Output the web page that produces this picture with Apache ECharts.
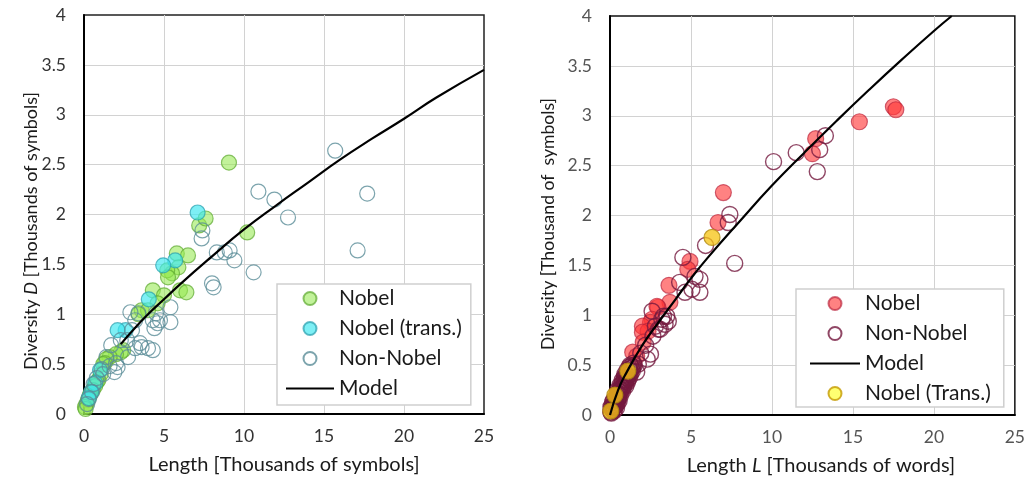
<!DOCTYPE html>
<html>
<head>
<meta charset="utf-8">
<script src="https://cdn.jsdelivr.net/npm/echarts@6/dist/echarts.min.js"></script>
<style>
  html, body { margin: 0; padding: 0; background: #fff; }
  #chart { width: 1028px; height: 481px; }
</style>
</head>
<body>
<div id="chart"></div>
<script>
// ---- Left panel: length vs diversity, thousands of symbols ----
const leftNobel = [
  [9.06, 2.52], [7.2, 1.89], [7.6, 1.96], [10.2, 1.82],
  [5.8, 1.61], [6.5, 1.59], [5.9, 1.47], [5.5, 1.41], [5.2, 1.44], [5.25, 1.37],
  [6.0, 1.24], [6.4, 1.22], [4.3, 1.24], [5.0, 1.19], [4.6, 1.11], [3.6, 1.04],
  [4.0, 1.04], [3.4, 1.0], [2.45, 0.64], [2.3, 0.62], [2.0, 0.6],
  [1.6, 0.57], [1.4, 0.55], [1.3, 0.51], [1.2, 0.5], [1.05, 0.4], [0.9, 0.34],
  [0.8, 0.32], [0.7, 0.28], [0.55, 0.24], [0.4, 0.2], [0.35, 0.18], [0.25, 0.14],
  [0.15, 0.1], [0.06, 0.07], [0.1, 0.05]
];
const leftNobelTrans = [
  [7.1, 2.02], [5.7, 1.54], [4.95, 1.49], [4.05, 1.15], [2.6, 0.84], [2.1, 0.84],
  [1.0, 0.44], [0.7, 0.31], [0.45, 0.22], [0.3, 0.16]
];
const leftNonNobel = [
  [15.7, 2.64], [10.9, 2.23], [11.9, 2.15], [17.7, 2.21], [12.75, 1.97], [17.1, 1.64],
  [10.6, 1.42], [9.4, 1.54], [9.1, 1.64], [7.35, 1.76], [7.4, 1.84], [8.3, 1.62],
  [8.8, 1.62], [8.0, 1.31], [8.1, 1.27], [5.4, 1.07], [4.75, 0.94], [5.4, 0.92],
  [4.4, 0.86], [3.4, 1.01], [3.2, 0.94], [4.3, 0.94], [2.7, 0.74], [3.6, 0.67],
  [4.3, 0.64], [4.0, 0.66], [2.9, 1.02], [3.5, 0.71], [3.2, 0.66], [2.75, 0.57],
  [2.0, 0.51], [1.9, 0.42], [4.5, 1.01], [4.6, 0.91], [2.3, 0.74], [3.0, 0.84],
  [1.4, 0.57], [1.7, 0.69], [1.1, 0.45], [0.8, 0.36], [0.6, 0.3], [0.5, 0.22],
  [0.3, 0.15], [0.2, 0.1], [1.2, 0.4], [2.1, 0.47], [1.6, 0.48]
];
const leftModelL = [2.3, 3, 4, 5, 6, 8, 10, 12, 14, 16, 18, 20, 22, 25];
const leftModelD = [0.7, 0.83, 1.0, 1.15, 1.30, 1.58, 1.85, 2.09, 2.32, 2.55, 2.76, 2.96, 3.17, 3.45];

// ---- Right panel: length in thousands of words ----
const rightNobel = [
  [17.5, 3.09], [17.65, 3.06], [15.4, 2.94], [12.7, 2.77], [12.5, 2.62],
  [7.0, 2.23], [6.67, 1.93], [4.94, 1.54], [4.8, 1.46], [3.64, 1.3], [3.7, 1.13],
  [2.96, 1.08], [2.9, 1.09], [2.6, 0.96], [2.5, 0.93], [2.0, 0.89], [2.35, 0.84],
  [2.0, 0.83], [2.05, 0.73], [1.4, 0.63], [1.65, 0.59]
];
const rightNonNobel = [
  [10.1, 2.54], [13.3, 2.8], [12.95, 2.66], [11.5, 2.63], [12.8, 2.44],
  [7.4, 2.01], [7.3, 1.93], [5.9, 1.7], [7.7, 1.52], [4.5, 1.58], [5.25, 1.39],
  [5.55, 1.36], [4.3, 1.33], [5.06, 1.26], [5.55, 1.23], [4.63, 1.23], [3.3, 0.99],
  [3.6, 0.94], [3.2, 0.96], [3.4, 0.91], [3.5, 0.99], [3.0, 0.86], [2.65, 0.79],
  [2.5, 0.61], [2.3, 0.56], [1.75, 0.51], [1.65, 0.43], [2.8, 0.89], [3.1, 0.86],
  [2.6, 1.04], [2.2, 0.7], [1.9, 0.62],
  [0.05, 0.03], [0.1, 0.06], [0.15, 0.05], [0.2, 0.1], [0.25, 0.08], [0.3, 0.14],
  [0.35, 0.12], [0.4, 0.18], [0.45, 0.15], [0.5, 0.22], [0.55, 0.2], [0.6, 0.26],
  [0.65, 0.23], [0.7, 0.3], [0.75, 0.27], [0.8, 0.33], [0.85, 0.3], [0.9, 0.36],
  [0.95, 0.34], [1.0, 0.4], [1.05, 0.37], [1.1, 0.42], [1.15, 0.4], [1.2, 0.46],
  [1.25, 0.44], [1.3, 0.49], [1.35, 0.47], [1.45, 0.52], [1.5, 0.5], [0.12, 0.09],
  [0.28, 0.11], [0.42, 0.21], [0.58, 0.24], [0.72, 0.28], [0.88, 0.38], [1.02, 0.35],
  [1.18, 0.48], [0.22, 0.15], [0.38, 0.1], [0.5, 0.16],
  [0.08, 0.02], [0.18, 0.07], [0.27, 0.05], [0.33, 0.09], [0.46, 0.12], [0.52, 0.18],
  [0.63, 0.19], [0.68, 0.25], [0.78, 0.24], [0.83, 0.28], [0.93, 0.31], [0.98, 0.29],
  [1.08, 0.33], [1.13, 0.36], [1.22, 0.38], [1.28, 0.42], [1.38, 0.44], [1.42, 0.48],
  [0.16, 0.13], [0.32, 0.17], [0.48, 0.25], [0.62, 0.3], [0.76, 0.35], [0.92, 0.41],
  [1.06, 0.45], [1.24, 0.5], [0.06, 0.08], [0.24, 0.04], [0.4, 0.07], [0.56, 0.14]
];
const rightNobelTrans = [[6.3, 1.78], [1.1, 0.44], [0.3, 0.2], [0.05, 0.04]];
const rightModelL = [0, 0.5, 1, 2, 3, 4, 5, 6, 8, 10, 12, 14, 16, 18, 20, 21.1];
const rightModelD = [0, 0.25, 0.42, 0.7, 0.93, 1.15, 1.37, 1.57, 1.94, 2.3, 2.63, 2.95, 3.26, 3.56, 3.85, 4.0];

const xTicks = { min: 0, max: 25, interval: 5 };
const yTicks = { min: 0, max: 4, interval: 0.5 };

const FONT = 'Lato, "Open Sans", sans-serif';
const INK = '#1a1a1a';
const zip = (a, b) => a.map((v, i) => [v, b[i]]);

function richStyle(size) {
  return {
    a: { fontSize: size, fill: INK, color: INK, fontFamily: FONT },
    i: { fontSize: size, fill: INK, color: INK, fontFamily: FONT, fontStyle: 'italic' }
  };
}
function xAxisFor(grid, name, labelColor, pad) {
  return {
    gridIndex: grid, type: 'value', ...xTicks,
    axisLine: { show: true, onZero: false, lineStyle: { color: '#000', width: 2 } },
    axisTick: { show: false },
    splitLine: { show: true, showMinLine: false, showMaxLine: false, lineStyle: { color: '#d2d2d2', width: 1 } },
    axisLabel: { fontSize: 17.5, color: labelColor, margin: 13, fontFamily: FONT },
    name: name, nameLocation: 'middle', nameGap: 41,
    nameTextStyle: { fontSize: 20, color: INK, fontFamily: FONT, padding: pad, rich: richStyle(20) }
  };
}
function yAxisFor(grid, labelColor) {
  return {
    gridIndex: grid, type: 'value', ...yTicks,
    axisLine: { show: true, onZero: false, lineStyle: { color: '#000', width: 2 } },
    axisTick: { show: false },
    splitLine: { show: true, showMinLine: false, showMaxLine: false, lineStyle: { color: '#d2d2d2', width: 1 } },
    axisLabel: { fontSize: 17.5, color: labelColor, margin: 18, fontFamily: FONT }
  };
}
// vertical axis titles, placed beside each panel
function yTitle(cx, cy, text, size) {
  return {
    type: 'text', x: cx, y: cy, rotation: Math.PI / 2, silent: true,
    style: { text: text, fontSize: size, fontFamily: FONT, fill: INK,
             align: 'center', verticalAlign: 'middle', rich: richStyle(size) }
  };
}
function dots(name, grid, data, size, fill, border, bw) {
  return {
    name: name, type: 'scatter', xAxisIndex: grid, yAxisIndex: grid,
    data: data, symbol: 'circle', symbolSize: size,
    itemStyle: { color: fill, borderColor: border, borderWidth: bw || 1.2 },
    emphasis: { disabled: true }
  };
}
function curve(name, grid, data) {
  return {
    name: name, type: 'line', xAxisIndex: grid, yAxisIndex: grid,
    data: data, symbol: 'none', smooth: true, clip: true,
    lineStyle: { color: '#000', width: 2.2 }, itemStyle: { color: '#000' },
    emphasis: { disabled: true }
  };
}
// legend entry for the model curve: line only, no marker
const lineEntry = (name) => ({ name: name, itemStyle: { opacity: 0 } });

function legendAt(left, top, pad, names, itemWidth) {
  return {
    left: left, top: top, orient: 'vertical', selectedMode: false,
    padding: pad, itemGap: 9, itemWidth: itemWidth, itemHeight: 13,
    backgroundColor: '#fff', borderColor: '#cfcfcf', borderWidth: 1.5, borderRadius: 0,
    textStyle: { fontSize: 21, color: INK, fontFamily: FONT, lineHeight: 21 },
    data: names
  };
}

const chart = echarts.init(document.getElementById('chart'), null, { renderer: 'canvas' });
chart.setOption({
  animation: false,
  backgroundColor: '#fff',
  grid: [
    { left: 84, top: 15, width: 400, height: 399, show: true, borderColor: '#222', borderWidth: 1.5, backgroundColor: 'transparent' },
    { left: 610, top: 16, width: 405, height: 400, show: true, borderColor: '#111', borderWidth: 1.5, backgroundColor: 'transparent' }
  ],
  xAxis: [
    xAxisFor(0, 'Length [Thousands of symbols]', '#333', [0, 0, 0, 0]),
    xAxisFor(1, '{a|Length }{i|L}{a| [Thousands of words]}', '#555', [0, 0, 0, 17])
  ],
  yAxis: [yAxisFor(0, '#333'), yAxisFor(1, '#555')],
  graphic: [
    yTitle(31, 231, '{a|Diversity }{i|D}{a| [Thousands of symbols]}', 18),
    yTitle(548, 224, '{a|Diversity [Thousand of  symbols]}', 17.6)
  ],
  legend: [
    legendAt(277, 284, [4, 9, 6, 8], ['Nobel', 'Nobel (trans.)', 'Non-Nobel', lineEntry('Model')], 48),
    legendAt(796, 289, [4, 13, 3, 13], ['Nobel ', 'Non-Nobel ', lineEntry('Model '),
      { name: 'Nobel (Trans.)', itemStyle: { color: '#ffff4d', borderColor: '#c49a00' } }], 50)
  ],
  series: [
    dots('Nobel', 0, leftNobel, 15, 'rgba(150,232,80,0.72)', 'rgba(95,170,50,0.9)'),
    dots('Nobel (trans.)', 0, leftNobelTrans, 15, 'rgba(64,232,240,0.85)', 'rgba(40,160,175,0.9)'),
    dots('Non-Nobel', 0, leftNonNobel, 15, 'rgba(255,255,255,0)', '#5b8d99'),
    curve('Model', 0, zip(leftModelL, leftModelD)),

    dots('Nobel ', 1, rightNobel, 16, 'rgba(255,55,55,0.78)', 'rgba(185,35,60,0.85)'),
    dots('Non-Nobel ', 1, rightNonNobel, 16, 'rgba(255,255,255,0)', '#74193f', 1.4),
    curve('Model ', 1, zip(rightModelL, rightModelD)),
    dots('Nobel (Trans.)', 1, rightNobelTrans, 16, 'rgba(246,196,20,0.95)', '#b08a10')
  ]
});
</script>
</body>
</html>
